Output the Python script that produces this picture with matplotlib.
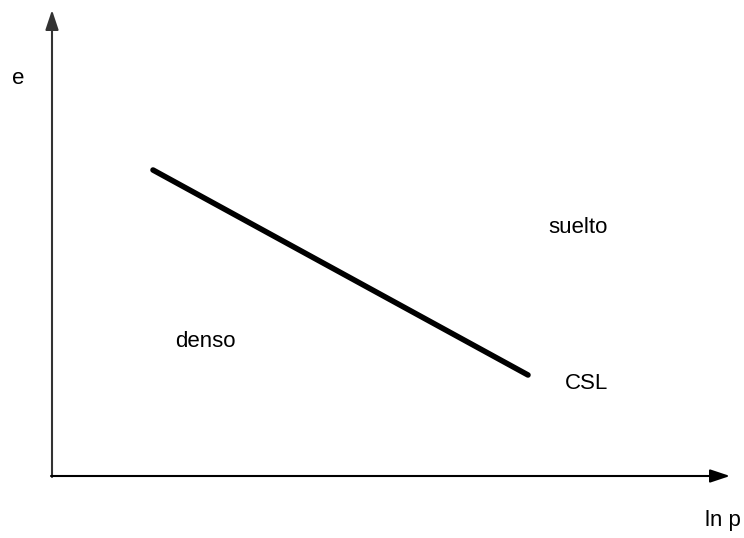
import matplotlib
matplotlib.use("Agg")
import matplotlib.pyplot as plt

plt.rcParams['font.family'] = ['Liberation Sans', 'DejaVu Sans']

# Critical state line in the e - ln p plane (schematic units)
csl_lnp = [101, 476]
csl_e = [306, 101]

# Region labels, anchored at their left baseline
labels = ["suelto", "denso", "CSL"]
label_lnp = [496, 123, 513]
label_e = [243, 129, 87]

fig = plt.figure(figsize=(7.44, 5.38), dpi=100)
ax = fig.add_axes([0, 0, 1, 1])
ax.set_xlim(-52, 692)
ax.set_ylim(-62, 476)
ax.axis("off")

# Axes with arrow heads
ax.annotate("", xy=(0, 466), xytext=(0, -1),
            arrowprops=dict(arrowstyle="-|>,head_length=1.2,head_width=0.4",
                            color="#333333", lw=1.5, shrinkA=0, shrinkB=0))
ax.annotate("", xy=(678, 0), xytext=(-1, 0),
            arrowprops=dict(arrowstyle="-|>,head_length=1.2,head_width=0.4",
                            color="black", lw=1.5, shrinkA=0, shrinkB=0))

ax.plot(csl_lnp, csl_e, color="black", lw=4, solid_capstyle="round")

for t, x, y in zip(labels, label_lnp, label_e):
    ax.text(x, y, t, fontsize=16, ha="left", va="baseline")

ax.text(-33.5, 392, "e", fontsize=16, ha="center", va="baseline")
ax.text(653, -50, "ln p", fontsize=16, ha="left", va="baseline")

fig.savefig("out.png", dpi=100)
